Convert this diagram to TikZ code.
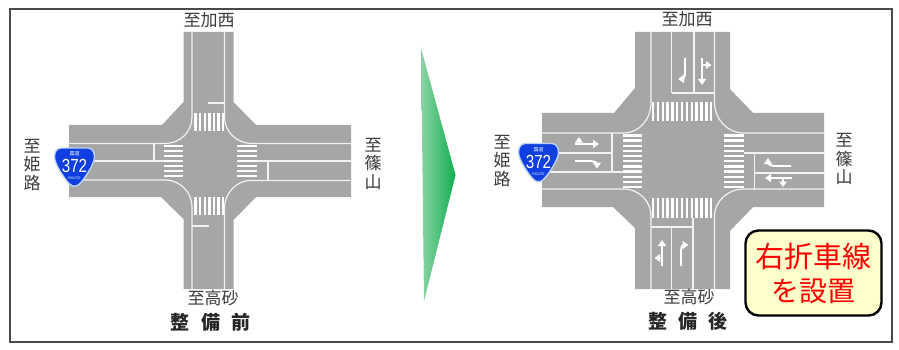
\documentclass[tikz,border=0pt]{standalone}
\usepackage{fontspec}
\usepackage{graphicx}
\setmainfont{Noto Sans CJK JP}
\newfontfamily\latinfont{Liberation Sans}
\usetikzlibrary{arrows.meta}
\definecolor{roadgrey}{HTML}{A6A6A6}
\definecolor{linewhite}{HTML}{F2F2F2}
\definecolor{labelgrey}{HTML}{3C3C3C}
\definecolor{framegrey}{HTML}{4A4A4A}
\definecolor{shieldblue}{HTML}{0F3FE0}
\definecolor{shieldedge}{HTML}{BCD2F7}
\definecolor{arrowlight}{HTML}{8CD4A4}
\definecolor{arrowmid}{HTML}{6CCB8E}
\definecolor{arrowdark}{HTML}{0FAE50}
\definecolor{notefill}{HTML}{FFFFCC}
\tikzset{
  x=1pt,y=-1pt,
  road/.style={fill=roadgrey,draw=none},
  lane/.style={draw=linewhite,line width=1.2pt},
  stopline/.style={draw=linewhite,line width=1.7pt},
  stripe/.style={draw=white,line width=2.4pt},
  lanearrow/.style={draw=white,line width=1.9pt,-{Triangle[length=6pt,width=8pt]}},
  lanebranch/.style={draw=white,line width=1.9pt,-{Triangle[length=5.5pt,width=7.5pt]}},
  place/.style={font=\fontsize{17}{17}\selectfont,text=labelgrey,inner sep=0pt},
  placev/.style={font=\fontsize{17}{18.5}\selectfont,text=labelgrey,inner sep=0pt,align=center},
  caption/.style={font=\fontsize{19}{19}\selectfont\bfseries,text=black!85,inner sep=0pt},
  shieldsign/.pic={
    \fill[shieldblue,draw=shieldedge,line width=1.4pt] (-13,-19) -- (13,-19)
      .. controls (18,-19) and (20,-15) .. (20,-10)
      .. controls (20,-3) and (10,12) .. (5,17)
      .. controls (2,20) and (-2,20) .. (-5,17)
      .. controls (-10,12) and (-20,-3) .. (-20,-10)
      .. controls (-20,-15) and (-18,-19) .. (-13,-19) -- cycle;
    \node[text=white,inner sep=0pt,font=\fontsize{5}{5}\selectfont] (-top) at (0,-13) {国道};
    \node[text=white,inner sep=0pt,font=\latinfont\fontsize{19}{19}\selectfont] (-num) at (0,-1) {\scalebox{0.8}[1]{372}};
    \node[text=white,inner sep=0pt,font=\latinfont\fontsize{3.5}{4}\selectfont] (-sub) at (0,11.5) {ROUTE};
  }
}
\begin{document}
\begin{tikzpicture}
\useasboundingbox (0,0) rectangle (899,350);
\fill[white] (0,0) rectangle (899,350);
\draw[framegrey,line width=1.8pt] (10,9) rectangle (892,342);

% ---------- before ----------
\fill[road] (183.5,32) -- (233.5,32) -- (233.5,102) -- (256,125) -- (351,125) -- (351,197)
  -- (256,197) -- (233.5,220) -- (233.5,289) -- (183.5,289) -- (183.5,219) -- (161,197)
  -- (69,197) -- (69,125) -- (162,125) -- (183.5,102) -- cycle;
\foreach \i in {0,...,6}{
  \draw[stripe] ({195.5+4.6*\i},113) -- ({195.5+4.6*\i},131);
  \draw[stripe] ({195.5+4.6*\i},197) -- ({195.5+4.6*\i},215);
}
\foreach \i in {0,...,6}{
  \draw[stripe] (164,{146+5*\i}) -- (183,{146+5*\i});
  \draw[stripe] (237,{146+5*\i}) -- (257,{146+5*\i});
}
\draw[lane] (192,32) -- (192,117) .. controls (192,132) and (180,143.5) .. (165,143.5) -- (69,143.5);
\draw[lane] (224.5,32) -- (224.5,117) .. controls (224.5,132) and (237,143.5) .. (252,143.5) -- (351,143.5);
\draw[lane] (192,289) -- (192,207) .. controls (192,192) and (180,180) .. (165,180) -- (69,180);
\draw[lane] (224.5,289) -- (224.5,208) .. controls (224.5,193) and (237,180.5) .. (250,180.5) -- (351,180.5);
\draw[lane] (69,161) -- (164,161);
\draw[lane] (257,161) -- (351,161);
\draw[stopline] (154,143.5) -- (154,161);
\draw[stopline] (268,161) -- (268,180);
\draw[stopline] (208,103) -- (224.5,103);
\draw[stopline] (192,226) -- (208.5,226);

% ---------- after ----------
\fill[road] (635,32) -- (730,32) -- (730,89) -- (753,113) -- (824,113) -- (824,207)
  -- (753,207) -- (730,231) -- (730,289) -- (635,289) -- (635,228) -- (613,207)
  -- (542,207) -- (542,113) -- (614,113) -- (635,88) -- cycle;
\foreach \i in {0,...,12}{
  \draw[stripe] ({653+4.85*\i},102) -- ({653+4.85*\i},121.5);
  \draw[stripe] ({653+4.85*\i},198) -- ({653+4.85*\i},218);
}
\foreach \i in {0,...,10}{
  \draw[stripe] (623,{135.5+5.15*\i}) -- (642,{135.5+5.15*\i});
  \draw[stripe] (724,{135.5+5.15*\i}) -- (744,{135.5+5.15*\i});
}
\draw[lane] (651,32) -- (651,102) .. controls (651,119) and (640,133) .. (623,133) -- (542,133);
\draw[lane] (714.5,32) -- (714.5,102) .. controls (714.5,119) and (727,133) .. (744,133) -- (824,133);
\draw[lane] (651,289) -- (651,216) .. controls (651,202) and (640,189) .. (623,189) -- (542,189);
\draw[lane] (714.5,289) -- (714.5,216) .. controls (714.5,202) and (727,189) .. (744,189) -- (824,189);
\draw[lane] (671.5,32) -- (671.5,93);
\draw[lane] (694,32) -- (694,93);
\draw[stopline] (671.5,93) -- (714.5,93);
\draw[lane] (671.5,289) -- (671.5,227);
\draw[lane] (693,289) -- (693,218);
\draw[stopline] (651,227) -- (693,227);
\draw[lane] (542,153) -- (612,153);
\draw[lane] (542,172) -- (623,172);
\draw[stopline] (612,133) -- (612,172);
\draw[lane] (744,153) -- (824,153);
\draw[lane] (755,173) -- (824,173);
\draw[stopline] (754.5,153) -- (754.5,189);

% arrows, after
\draw[lanearrow] (685,58) -- (685,73) .. controls (685,77) and (683,79) .. (678,79);
\draw[lanearrow] (702,58) -- (702,85);
\draw[lanebranch] (702,65) -- (711.5,65);
\draw[lanearrow] (662,266) -- (662,240);
\draw[lanebranch] (662,258) -- (654.5,258);
\draw[lanearrow] (681,266) -- (681,251) .. controls (681,247) and (683,245) .. (688.5,245);
\draw[lanearrow] (575,144) -- (599,144);
\draw[lanebranch] (579,144) -- (579,137);
\draw[lanearrow] (575,161) -- (590,161) .. controls (594,161) and (597,163) .. (597,168.5);
\draw[lanearrow] (791,166) -- (775,166) .. controls (771,166) and (768,164) .. (768,158);
\draw[lanearrow] (792,178) -- (765,178);
\draw[lanebranch] (783,178) -- (783,187);

% shields
\pic (shieldA) at (74.5,167) {shieldsign};
\pic (shieldB) at (538.5,162.5) {shieldsign};

% direction arrow
\shade[left color=arrowlight,middle color=arrowmid,right color=arrowdark]
  (421,48) -- (455.5,175) -- (424,301) -- cycle;

% labels
\node[place] (aW) at (209,20) {至加西};
\node[place] (aS) at (213,298) {至高砂};
\node[placev] (aL) at (32,165) {至\\姫\\路};
\node[placev] (aR) at (373,163.5) {至\\篠\\山};
\node[caption] (capA1) at (180,322) {整};
\node[caption] (capA2) at (211,322) {備};
\node[caption] (capA3) at (241,322) {前};

\node[place] (bW) at (687,19) {至加西};
\node[place] (bS) at (689,297) {至高砂};
\node[placev] (bL) at (502,161) {至\\姫\\路};
\node[placev] (bR) at (844,159) {至\\篠\\山};
\node[caption] (capB1) at (658,321) {整};
\node[caption] (capB2) at (688,321) {備};
\node[caption] (capB3) at (718,321) {後};

\node[draw=black,line width=2.4pt,fill=notefill,rounded corners=13pt,minimum width=136pt,minimum height=85pt,inner sep=0pt] (note) at (813.5,273) {};
\node[text=red,inner sep=0pt,font=\fontsize{29}{29}\selectfont] (noteA) at (813,257) {右折車線};
\node[text=red,inner sep=0pt,font=\fontsize{28}{28}\selectfont] (noteB) at (813,291) {を設置};
\end{tikzpicture}
\end{document}
